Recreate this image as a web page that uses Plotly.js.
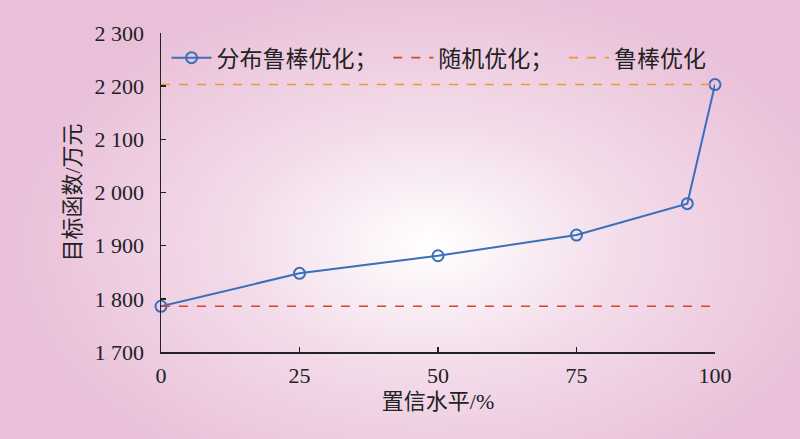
<!DOCTYPE html>
<html><head><meta charset="utf-8">
<script src="https://cdn.plot.ly/plotly-3.0.1.min.js"></script>
<style>
html,body{margin:0;padding:0;}
body{width:800px;height:439px;background:radial-gradient(ellipse 430px 270px at 430px 245px,#ffffff 0%,#f3dcea 45%,#e9bfd9 100%);}
#chart{width:800px;height:439px;}
</style></head>
<body><div id="chart"></div>
<script>
const confidence = [0, 25, 50, 75, 95, 100];
const droValues = [1786, 1848, 1881, 1920, 1979, 2203];
const randomX = [0, 100];
const randomValues = [1786, 1786];
const robustX = [0, 100];
const robustValues = [2203, 2203];
const yTickVals = [1700, 1800, 1900, 2000, 2100, 2200, 2300];
const yTickText = ['1 700', '1 800', '1 900', '2 000', '2 100', '2 200', '2 300'];
const xTickVals = [0, 25, 50, 75, 100];

const FONT = '"Liberation Serif", "Times New Roman", "Noto Sans CJK SC", serif';
const traces = [
  {x: confidence, y: droValues, name: '分布鲁棒优化；\u00a0', mode: 'lines+markers', cliponaxis: false,
   line: {color: '#3a6fbc', width: 2}, marker: {symbol: 'circle-open', size: 11, color: '#3a6fbc', line: {width: 2}}},
  {x: randomX, y: randomValues, name: '随机优化；\u00a0', mode: 'lines', cliponaxis: false,
   line: {color: '#d8452e', width: 1.6, dash: 'dash'}},
  {x: robustX, y: robustValues, name: '鲁棒优化', mode: 'lines', cliponaxis: false,
   line: {color: '#e89a2a', width: 1.6, dash: 'dash'}}
];
const layout = {
  width: 800, height: 439,
  paper_bgcolor: 'rgba(0,0,0,0)', plot_bgcolor: 'rgba(0,0,0,0)',
  margin: {l: 161, r: 85, t: 33, b: 87},
  font: {family: FONT, color: '#222', size: 22},
  showlegend: true,
  legend: {orientation: 'h', x: 0.01, y: 0.99, xanchor: 'left', yanchor: 'top',
    bgcolor: 'rgba(0,0,0,0)', font: {size: 23, family: FONT, color: '#222'}, itemwidth: 40, tracegroupgap: 0},
  xaxis: {range: [0, 100], tickvals: xTickVals, ticks: 'inside', ticklen: 5, tickwidth: 1.5, tickcolor: '#222',
    showline: true, linecolor: '#222', linewidth: 1.5, showgrid: false, zeroline: false,
    tickfont: {size: 22, family: FONT}, ticklabelstandoff: 3,
    title: {text: '置信水平/%', font: {size: 22, family: FONT}, standoff: 6}},
  yaxis: {range: [1700, 2300], tickvals: yTickVals, ticktext: yTickText, ticks: 'inside', ticklen: 5, tickwidth: 1.5, tickcolor: '#222',
    showline: true, linecolor: '#222', linewidth: 1.5, showgrid: false, zeroline: false,
    tickfont: {size: 22, family: FONT}, ticklabelstandoff: 11,
    title: {text: '目标函数/万元', font: {size: 22, family: FONT}, standoff: 8}}
};
Plotly.newPlot('chart', traces, layout, {displayModeBar: false, staticPlot: true});
</script></body></html>
